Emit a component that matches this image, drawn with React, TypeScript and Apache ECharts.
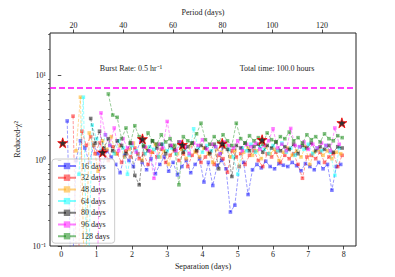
import React, { useEffect, useRef } from "react";
import * as echarts from "echarts";

// ---- data ----
const SEP_STEP = 0.125; // separation grid spacing (days)
const seriesNames = ["16 days", "32 days", "48 days", "64 days", "80 days", "96 days", "128 days"];
const seriesColors = ["#0000ff", "#ff0000", "#ffa500", "#00ffff", "#000000", "#ff00ff", "#008000"];
const seriesStarts = [0.167, 0.333, 0.417, 0.5, 0.833, 1.0, 1.333];

const chi16 = [2.9, 0.02, 1.0, 1.7, 1.4, 0.95, 1.5, 1.2, 0.85, 1.3,
  1.1, 0.9, 0.72, 1.15, 1.0, 0.85, 1.2, 0.95, 0.78, 1.05,
  0.7, 0.9, 1.1, 0.75, 0.95, 0.68, 0.85, 1.0, 0.72, 0.9,
  1.05, 0.56, 0.95, 0.51, 0.88, 1.0, 0.8, 0.25, 0.3, 0.85,
  0.95, 0.4, 0.78, 0.9, 0.82, 0.98, 0.85, 0.8, 0.92, 0.88,
  0.85, 0.95, 0.87, 0.76, 0.92, 0.85, 0.78, 0.95, 0.8, 0.9,
  0.45, 0.85, 0.9];
const chi32 = [3.3, 0.02, 2.2, 1.5, 1.9, 1.2, 1.6, 1.3, 1.0, 1.45,
  1.2, 0.95, 1.3, 1.1, 1.4, 1.05, 1.2, 0.9, 1.25, 1.1,
  1.35, 0.95, 1.15, 1.3, 1.0, 1.2, 0.85, 1.15, 1.3, 0.95,
  1.1, 1.25, 0.9, 1.15, 1.05, 0.73, 1.3, 1.1, 1.2, 0.9,
  1.15, 1.3, 1.0, 0.85, 1.2, 1.1, 1.25, 0.95, 1.15, 1.05,
  1.2, 0.9, 0.62, 1.1, 1.15, 1.05, 1.25, 0.95, 1.1, 1.2,
  0.85, 1.15];
const chi48 = [1.3, 5.5, 0.02, 2.1, 1.5, 0.75, 1.7, 1.35, 1.9, 1.2,
  1.5, 1.1, 1.35, 1.6, 1.2, 1.0, 1.4, 1.25, 1.55, 1.1,
  1.3, 0.9, 1.45, 1.2, 1.35, 1.05, 1.5, 1.25, 1.1, 1.4,
  1.2, 0.95, 1.35, 1.25, 1.5, 1.1, 1.3, 0.85, 1.25, 1.4,
  1.15, 1.3, 1.05, 1.45, 1.2, 1.35, 1.0, 1.25, 1.4, 1.15,
  1.3, 1.1, 1.45, 0.9, 1.25, 1.35, 1.15, 1.3, 1.05, 1.25,
  1.2];
const chi64 = [0.69, 5.5, 0.02, 2.6, 1.8, 1.3, 2.0, 1.5, 1.2, 1.7,
  1.4, 0.69, 1.5, 1.3, 1.65, 1.2, 1.45, 1.35, 1.1, 1.55,
  1.3, 1.4, 1.2, 1.6, 1.35, 1.15, 2.35, 1.4, 1.25, 1.5,
  1.3, 1.45, 1.2, 1.55, 1.35, 1.1, 0.69, 1.4, 1.3, 1.55,
  1.25, 1.45, 1.35, 1.2, 1.5, 1.3, 1.6, 1.25, 1.4, 1.15,
  1.45, 1.35, 1.55, 1.2, 1.4, 1.3, 1.5, 1.25, 0.67, 1.4];
const chi80 = [3.1, 1.6, 2.2, 1.4, 1.8, 1.3, 1.7, 1.5, 1.2, 1.6,
  0.67, 0.52, 1.45, 1.3, 1.7, 1.4, 1.55, 1.2, 1.5, 1.35,
  1.65, 1.25, 1.45, 1.6, 1.3, 1.5, 1.4, 1.2, 1.55, 0.8,
  1.45, 1.35, 0.65, 1.5, 1.4, 1.6, 1.3, 1.45, 1.55, 1.25,
  1.5, 1.4, 1.65, 1.3, 1.45, 1.35, 1.55, 1.2, 1.5, 1.4,
  1.6, 1.3, 1.45, 1.35, 1.5, 1.25, 1.45, 1.4];
const chi96 = [0.02, 3.6, 2.0, 1.5, 2.4, 1.3, 1.8, 1.4, 1.6, 1.25,
  1.7, 1.45, 1.3, 0.62, 1.55, 1.4, 2.86, 1.5, 1.3, 1.65,
  1.45, 1.2, 1.6, 1.5, 1.75, 1.35, 1.55, 1.45, 1.2, 1.65,
  1.5, 1.4, 1.7, 1.3, 1.55, 1.45, 1.6, 1.35, 1.5, 1.7,
  2.35, 1.4, 1.55, 1.3, 2.37, 1.5, 1.45, 1.65, 1.35, 1.55,
  1.4, 1.6, 1.5, 1.3, 2.4, 1.55];
const chi128 = [6.0, 3.4, 3.2, 1.8, 2.4, 1.6, 2.55, 1.9, 1.5, 2.1,
  1.7, 1.55, 2.0, 1.65, 1.8, 1.5, 0.52, 1.9, 1.7, 1.6,
  2.05, 2.73, 1.75, 1.55, 1.9, 1.65, 2.0, 1.7, 1.5, 2.73,
  1.8, 1.6, 1.95, 1.7, 1.85, 1.55, 2.1, 1.75, 1.65, 1.9,
  1.8, 2.15, 1.7, 1.85, 1.6, 2.0, 1.75, 1.9, 1.65, 2.05,
  1.8, 1.7, 1.95, 1.85];
const seriesValues = [chi16, chi32, chi48, chi64, chi80, chi96, chi128];

const starSep = [0.04, 1.17, 2.3, 3.43, 4.56, 5.69, 7.95];
const starChi = [1.61, 1.25, 1.79, 1.53, 1.59, 1.75, 2.76];

const thresholdChi = 7.1;

const sepTicks = [0, 1, 2, 3, 4, 5, 6, 7, 8];
const periodTicks = [20, 40, 60, 80, 100, 120];
const chiMajorTicks = [0.1, 1, 10];
const chiMinorTicks = [0.2, 0.3, 0.4, 0.5, 0.6, 0.7, 0.8, 0.9, 2, 3, 4, 5, 6, 7, 8, 9, 20, 30];

const FONT = "Liberation Serif";
const STAR = "path://M50,0 L61,35 L98,35 L68,57 L79,91 L50,70 L21,91 L32,57 L2,35 L39,35 Z";

const SUP: Record<string, string> = { "-": "⁻", "0": "⁰", "1": "¹", "2": "²", "3": "³", "4": "⁴", "5": "⁵", "6": "⁶", "7": "⁷", "8": "⁸", "9": "⁹" };
const powLabel = (v: number) => {
  const e = Math.round(Math.log10(v));
  return "10" + String(e).split("").map((c) => SUP[c] || c).join("");
};

export default function App() {
  const ref = useRef<HTMLDivElement>(null);
  useEffect(() => {
    if (!ref.current) return;
    const chart = echarts.init(ref.current, null, { renderer: "svg" });
    const lineSeries = seriesNames.map((name, k) => ({
      name,
      type: "line",
      xAxisIndex: 0,
      yAxisIndex: 0,
      data: seriesValues[k].map((v, i) => [seriesStarts[k] + i * SEP_STEP, v]),
      symbol: "rect",
      symbolSize: 3.6,
      clip: true,
      lineStyle: { type: "dashed", width: 0.8, color: seriesColors[k], opacity: 0.5 },
      itemStyle: { color: seriesColors[k], opacity: 0.5 },
      emphasis: { disabled: true },
      z: 2 + k,
    }));
    const axisText = { fontSize: 8, color: "#222", fontFamily: FONT };
    chart.setOption({
      animation: false,
      textStyle: { fontFamily: FONT },
      grid: {
        left: 50, right: 39, top: 33, bottom: 31,
        show: true, borderColor: "#222", borderWidth: 1, backgroundColor: "transparent",
        outerBoundsMode: "none",
      },
      xAxis: [
        {
          type: "value", position: "bottom", min: -0.32, max: 8.35,
          name: "Separation (days)", nameLocation: "middle", nameGap: 13,
          nameTextStyle: { ...axisText },
          axisLine: { show: false },
          axisTick: { show: true, length: 3.5, lineStyle: { color: "#222", width: 0.8 }, customValues: sepTicks },
          axisLabel: { ...axisText, margin: 4, customValues: sepTicks },
          splitLine: { show: false },
        },
        {
          type: "value", position: "top", min: 10.5, max: 133.7,
          name: "Period (days)", nameLocation: "middle", nameGap: 12,
          nameTextStyle: { ...axisText },
          axisLine: { show: false },
          axisTick: { show: true, length: 3.5, lineStyle: { color: "#222", width: 0.8 }, customValues: periodTicks },
          axisLabel: { ...axisText, margin: 4, customValues: periodTicks },
          splitLine: { show: false },
        },
      ],
      yAxis: [
        {
          type: "log", logBase: 10, min: 0.1, max: 31, position: "left",
          name: "Reduced-χ²", nameLocation: "middle", nameGap: 23, nameRotate: 90,
          nameTextStyle: { ...axisText },
          axisLine: { show: false },
          axisTick: { show: true, length: 3.5, lineStyle: { color: "#222", width: 0.8 }, customValues: chiMajorTicks },
          axisLabel: { ...axisText, margin: 4, customValues: chiMajorTicks, formatter: (v: number) => powLabel(v) },
          splitLine: { show: false },
        },
        {
          type: "log", logBase: 10, min: 0.1, max: 31, position: "left",
          axisLine: { show: false },
          axisTick: { show: true, length: 2, lineStyle: { color: "#222", width: 0.6 }, customValues: chiMinorTicks },
          axisLabel: { show: false },
          splitLine: { show: false },
        },
      ],
      legend: {
        data: seriesNames,
        orient: "vertical",
        left: 52, top: 159,
        itemWidth: 18, itemHeight: 8, itemGap: 3.7,
        padding: [3, 5, 3, 5],
        backgroundColor: "rgba(255,255,255,0.8)",
        borderColor: "#ccc", borderWidth: 1, borderRadius: 3,
        textStyle: { fontSize: 8, color: "#222", fontFamily: FONT },
      },
      graphic: [
        { type: "text", x: 131, y: 68, z: 100, style: { text: "Burst Rate: 0.5 hr⁻¹", fontSize: 8, fontFamily: FONT, fill: "#222", textAlign: "center", textVerticalAlign: "middle" } },
        { type: "text", x: 277, y: 68, z: 100, style: { text: "Total time: 100.0 hours", fontSize: 8, fontFamily: FONT, fill: "#222", textAlign: "center", textVerticalAlign: "middle" } },
      ],
      series: [
        ...lineSeries,
        {
          name: "best",
          type: "scatter",
          xAxisIndex: 0, yAxisIndex: 0,
          data: starSep.map((s, i) => [s, starChi[i]]),
          symbol: STAR,
          symbolSize: 10,
          itemStyle: { color: "#000", borderColor: "#ff0000", borderWidth: 1 },
          z: 20,
          emphasis: { disabled: true },
          markLine: {
            silent: true, symbol: "none", label: { show: false },
            lineStyle: { color: "#ff00ff", type: "dashed", width: 1.5 },
            data: [{ yAxis: thresholdChi }],
          },
        },
      ],
    });
    return () => chart.dispose();
  }, []);
  return <div ref={ref} style={{ width: 395, height: 277, position: "absolute", left: 0, top: 0 }} />;
}
